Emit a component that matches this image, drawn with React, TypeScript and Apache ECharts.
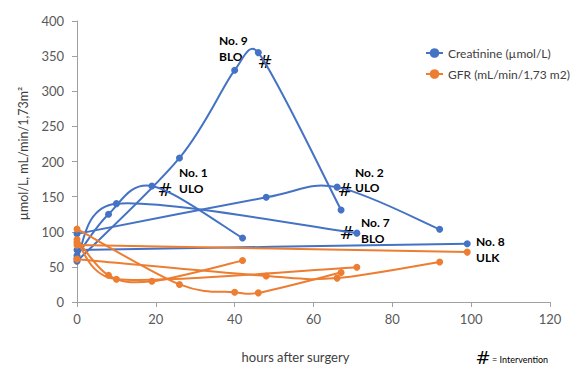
import React, { useEffect, useRef } from "react";
import * as echarts from "echarts";

// ---- data (hours after surgery, values) ----
const CREAT = "Creatinine (µmol/L)";
const GFR = "GFR (mL/min/1,73 m2)";

const hoursNo9 = [0, 26, 40, 46, 67];
const creatNo9 = [58, 205, 330, 355, 131];
const gfrNo9 = [104, 25, 14, 13, 42];

const hoursNo1 = [0, 8, 19, 42];
const creatNo1 = [66, 125, 165, 91];
const gfrNo1 = [89, 38, 29.5, 59];

const hoursNo2 = [0, 48, 66, 92];
const creatNo2 = [97, 149, 163.5, 103.5];
const gfrNo2 = [61, 37, 34, 57];

const hoursNo7 = [0, 10, 71];
const creatNo7 = [62, 140, 98];
const gfrNo7 = [85, 32.5, 49.5];

const hoursNo8 = [0, 99];
const creatNo8 = [74, 83];
const gfrNo8 = [81, 71];

const xMin = 0, xMax = 120, xStep = 20;
const yMin = 0, yMax = 400, yStep = 50;

const patients = [
  { hours: hoursNo9, creat: creatNo9, gfr: gfrNo9 },
  { hours: hoursNo1, creat: creatNo1, gfr: gfrNo1 },
  { hours: hoursNo2, creat: creatNo2, gfr: gfrNo2 },
  { hours: hoursNo7, creat: creatNo7, gfr: gfrNo7 },
  { hours: hoursNo8, creat: creatNo8, gfr: gfrNo8 },
];

const BLUE = "#4472C4";
const ORANGE = "#ED7D31";
const FONT = "Lato, 'Noto Sans', sans-serif";

const dist = (a: number[], b: number[]) => Math.hypot(b[0] - a[0], b[1] - a[1]);

// Smoothed curve (spreadsheet-style Bezier smoothing: tension 1/6, control
// handles limited to half the segment length), drawn through api.coord.
function curveSeries(name: string, color: string, xs: number[], ys: number[]) {
  const n = xs.length;
  const at = (k: number) => Math.max(0, Math.min(n - 1, k));
  return {
    type: "custom",
    name,
    data: xs.map((x, i) => [x, ys[i]]),
    encode: { x: 0, y: 1 },
    silent: true,
    z: 2,
    itemStyle: { color },
    renderItem: (params: any, api: any) => {
      const i = params.dataIndex;
      if (i >= n - 1) return { type: "group", children: [] };
      const P = (k: number) => api.coord([xs[at(k)], ys[at(k)]]);
      const p0 = P(i - 1), p1 = P(i), p2 = P(i + 1), p3 = P(i + 2);
      const d12 = dist(p1, p2);
      const d02 = dist(p0, p2) || 1;
      const d13 = dist(p1, p3) || 1;
      const f1 = Math.min(1 / 6, d12 / 2 / d02);
      const f2 = Math.min(1 / 6, d12 / 2 / d13);
      return {
        type: "bezierCurve",
        shape: {
          x1: p1[0],
          y1: p1[1],
          x2: p2[0],
          y2: p2[1],
          cpx1: p1[0] + (p2[0] - p0[0]) * f1,
          cpy1: p1[1] + (p2[1] - p0[1]) * f1,
          cpx2: p2[0] - (p3[0] - p1[0]) * f2,
          cpy2: p2[1] - (p3[1] - p1[1]) * f2,
        },
        style: { stroke: color, lineWidth: 2, fill: null },
      };
    },
  };
}

function markerSeries(name: string, color: string, xs: number[], ys: number[]) {
  return {
    type: "line",
    name,
    data: xs.map((x, i) => [x, ys[i]]),
    symbol: "circle",
    symbolSize: 7,
    z: 3,
    lineStyle: { width: 0, opacity: 0, color },
    itemStyle: { color },
    emphasis: { disabled: true },
  };
}

export default function App() {
  const ref = useRef<HTMLDivElement>(null);
  useEffect(() => {
    document.body.style.margin = "0";
    const chart = echarts.init(ref.current!, null, { renderer: "svg" });
    const series: any[] = [];
    patients.forEach((p) => series.push(markerSeries(CREAT, BLUE, p.hours, p.creat)));
    patients.forEach((p) => series.push(markerSeries(GFR, ORANGE, p.hours, p.gfr)));
    patients.forEach((p) => series.push(curveSeries(CREAT, BLUE, p.hours, p.creat)));
    patients.forEach((p) => series.push(curveSeries(GFR, ORANGE, p.hours, p.gfr)));
    const lbl = (text: string, x: number, y: number) => ({
      type: "text",
      x,
      y,
      style: { text, fill: "#000", fontSize: 12, fontWeight: "bold", fontFamily: FONT, verticalAlign: "middle", align: "left" },
    });
    const hash = (x: number, y: number) => ({
      type: "text",
      x,
      y,
      style: { text: "#", fill: "#000", fontSize: 18, fontFamily: "'DejaVu Sans', sans-serif", verticalAlign: "middle", align: "center" },
    });
    chart.setOption({
      animation: false,
      textStyle: { fontFamily: FONT },
      grid: { left: 77, right: 21, top: 21, bottom: 71, containLabel: false },
      legend: {
        orient: "vertical",
        left: 420,
        top: 42,
        itemGap: 9,
        itemWidth: 17,
        itemHeight: 12,
        data: [CREAT, GFR],
        lineStyle: { width: 2, opacity: 1 },
        textStyle: { color: "#404040", fontSize: 12, fontFamily: FONT },
      },
      xAxis: {
        type: "value",
        min: xMin,
        max: xMax,
        interval: xStep,
        name: "hours after surgery",
        nameLocation: "middle",
        nameGap: 48,
        nameTextStyle: { color: "#404040", fontSize: 13, padding: [0, 36, 0, 0] },
        axisLine: { lineStyle: { color: "#A0A0A0" } },
        axisTick: { show: true, length: 5, lineStyle: { color: "#A0A0A0" } },
        axisLabel: { color: "#595959", fontSize: 13, margin: 10 },
        splitLine: { show: false },
      },
      yAxis: {
        type: "value",
        min: yMin,
        max: yMax,
        interval: yStep,
        name: "µmol/L, mL/min/1,73m²",
        nameLocation: "middle",
        nameGap: 39,
        nameRotate: 90,
        nameTextStyle: { color: "#404040", fontSize: 12.5, padding: [0, 0, 0, 16] },
        axisLine: { show: true, lineStyle: { color: "#A0A0A0" } },
        axisTick: { show: true, length: 5, lineStyle: { color: "#A0A0A0" } },
        axisLabel: { color: "#595959", fontSize: 13, margin: 13 },
        splitLine: { show: false },
      },
      series,
      graphic: [
        lbl("No. 9", 219, 40),
        lbl("BLO", 219, 56),
        hash(265, 61),
        lbl("No. 1", 179, 172),
        lbl("ULO", 179, 188),
        hash(165, 189),
        lbl("No. 2", 355, 172),
        lbl("ULO", 355, 187),
        hash(345, 189),
        lbl("No. 7", 361, 222),
        lbl("BLO", 361, 238),
        hash(347, 232),
        lbl("No. 8", 476, 241),
        lbl("ULK", 476, 257),
        hash(483, 357),
        {
          type: "text",
          x: 492,
          y: 359,
          style: { text: "= Intervention", fill: "#000", fontSize: 9, fontFamily: FONT, verticalAlign: "middle", align: "left" },
        },
      ],
    });
    return () => chart.dispose();
  }, []);
  return <div ref={ref} style={{ width: 571, height: 373 }} />;
}
